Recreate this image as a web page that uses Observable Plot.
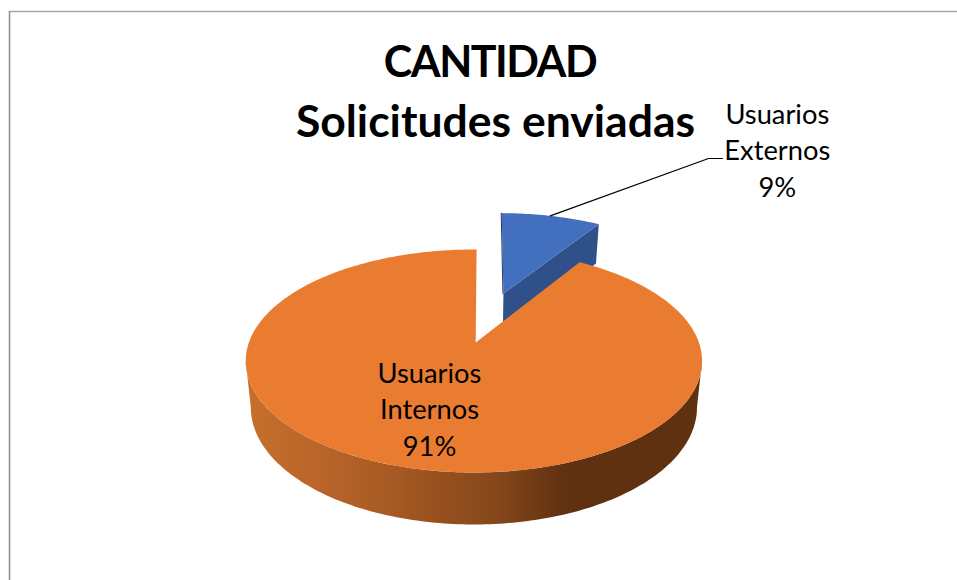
<!DOCTYPE html>
<html lang="es">
<head>
<meta charset="utf-8">
<script src="https://cdn.jsdelivr.net/npm/d3@7"></script>
<script src="https://cdn.jsdelivr.net/npm/@observablehq/plot@0.6"></script>
<style>
html,body{margin:0;padding:0;background:#fff;overflow:hidden}
svg{display:block}
.caps text{letter-spacing:-1.5px}
</style>
</head>
<body>
<div id="chart"></div>
<script>
// Data
const categories = ["Usuarios Externos", "Usuarios Internos"];
const shares = [9, 91];
const sliceColors = ["#4270bf", "#ea7c31"];
const sideColorBlue = "#2f5089";
const titleLines = ["CANTIDAD", "Solicitudes enviadas"];
const wallStops = [250, 320, 400, 500, 565, 700];
const wallColors = ["#c66f2c", "#b9652a", "#a45822", "#83461a", "#5f3111", "#5f3111"];

// Perspective of the disc (camera set-up of the 3D pie)
const FONT = "Lato, Carlito, 'Open Sans', sans-serif";
const K = 0.166;
const topPlane = {cx: 473.4, cy: 342, a: 225, b: 108.4};
const botPlane = {cx: 473.4, cy: 387.4, a: 220, b: 113.9};
const project = (pl, X, Y) => {
  const w = 1 + K * Y;
  return [pl.cx + pl.a * X / w, pl.cy - pl.b * Y / w];
};
const EXPLODE = 0.509;
const LEAN = 0.7;   // small camera lean of the near-vertical cut edges, degrees
const rad = d => d * Math.PI / 180;

// Angles from the values, clockwise from 12 o'clock
const total = d3.sum(shares);
const sweep = shares[0] / total * 360;
const mid = rad(sweep / 2);
const off = [EXPLODE * Math.sin(mid), EXPLODE * Math.cos(mid)];
const rim = (deg, o = [0, 0]) => [o[0] + Math.sin(rad(deg)), o[1] + Math.cos(rad(deg))];
const seq = (a, b, step) => {
  const n = Math.max(1, Math.round((b - a) / step));
  return d3.range(n + 1).map(i => a + (b - a) * i / n);
};

const polys = [];
const addPoly = (id, fill, pts) => pts.forEach(p => polys.push({id, fill, x: p[0], y: p[1]}));

// Blue slice: cut side then top
addPoly("blueSide", sideColorBlue, [
  project(topPlane, ...off),
  project(topPlane, ...rim(sweep, off)),
  project(botPlane, ...rim(sweep, off)),
  project(botPlane, ...off)
]);
addPoly("blueTop", sliceColors[0], [
  project(topPlane, ...off),
  ...seq(LEAN, sweep, 1).map(t => project(topPlane, ...rim(t, off)))
]);

// Orange wall, near side only, one shape shaded along x
const sil = Math.acos(-K) * 180 / Math.PI;
const wallAngles = seq(sil, 360 - sil, 1);
addPoly("wall", "url(#wallShade)", [
  ...wallAngles.map(t => project(topPlane, ...rim(t))),
  ...wallAngles.slice().reverse().map(t => project(botPlane, ...rim(t)))
]);

// Orange top
addPoly("orangeTop", sliceColors[1], [
  project(topPlane, 0.008, 0),
  ...seq(sweep, 360 + 0.8, 1).map(t => project(topPlane, ...rim(t)))
]);

// Dark hairline on the blue slice's left cut edge
const edgeLine = [project(topPlane, ...rim(LEAN, off)), project(topPlane, ...off)]
  .map(p => ({x: p[0] - 0.5, y: p[1]}));

// Leader line from the blue rim to its label
const anchor = project(topPlane, off[0] + Math.sin(mid), off[1] + Math.cos(mid));
const leader = [{x: anchor[0], y: anchor[1]}, {x: 708, y: 158}, {x: 722, y: 158}];

const labels = [
  {t: `Usuarios\nExternos\n${shares[0]}%`, x: 776.8, y: 148},
  {t: `Usuarios\nInternos\n${shares[1]}%`, x: 429, y: 407}
];

// Gradient definition for the wall, in the chart's own x positions
const wallDefs = (index, scales) => {
  const defs = d3.create("svg:defs");
  const g = defs.append("linearGradient")
    .attr("id", "wallShade")
    .attr("gradientUnits", "userSpaceOnUse")
    .attr("x1", scales.x(wallStops[0])).attr("x2", scales.x(wallStops[wallStops.length - 1]))
    .attr("y1", 0).attr("y2", 0);
  wallStops.forEach((s, i) => g.append("stop")
    .attr("offset", (s - wallStops[0]) / (wallStops[wallStops.length - 1] - wallStops[0]))
    .attr("stop-color", wallColors[i]));
  return defs.node();
};

const chart = Plot.plot({
  width: 957, height: 580,
  margin: 0,
  style: {background: "#fff", overflow: "hidden"},
  x: {domain: [0, 957], range: [0, 957], axis: null},
  y: {domain: [0, 580], range: [0, 580], axis: null},
  color: {type: "identity"},
  marks: [
    wallDefs,
    Plot.ruleY([11], {x1: 9, x2: 957, stroke: "#a8a8a8", strokeWidth: 1.5}),
    Plot.ruleX([9], {y1: 11, y2: 580, stroke: "#8c8c8c", strokeWidth: 1.5}),
    ...d3.groups(polys, d => d.id).map(([id, pts]) =>
      Plot.line(pts, {x: "x", y: "y", fill: pts[0].fill, stroke: "none", curve: "linear-closed"})),
    Plot.line(edgeLine, {x: "x", y: "y", stroke: "#1f3864", strokeWidth: 1}),
    Plot.line(leader, {x: "x", y: "y", stroke: "#000", strokeWidth: 1.2}),
    Plot.text(labels, {x: "x", y: "y", text: "t", fontFamily: FONT, fontSize: 27.3, lineHeight: 36.5 / 27.3, fill: "#000", textAnchor: "middle", lineAnchor: "middle"}),
    Plot.text([titleLines[0]], {x: 489.5, y: 63, text: d => d, className: "caps", fontFamily: FONT, fontSize: 43, fontWeight: 700, fill: "#000", textAnchor: "middle", lineAnchor: "middle"}),
    Plot.text([titleLines[1]], {x: 495, y: 122, text: d => d, fontFamily: FONT, fontSize: 44.5, fontWeight: 700, fill: "#000", textAnchor: "middle", lineAnchor: "middle"})
  ]
});
document.getElementById("chart").append(chart);
</script>
</body>
</html>
